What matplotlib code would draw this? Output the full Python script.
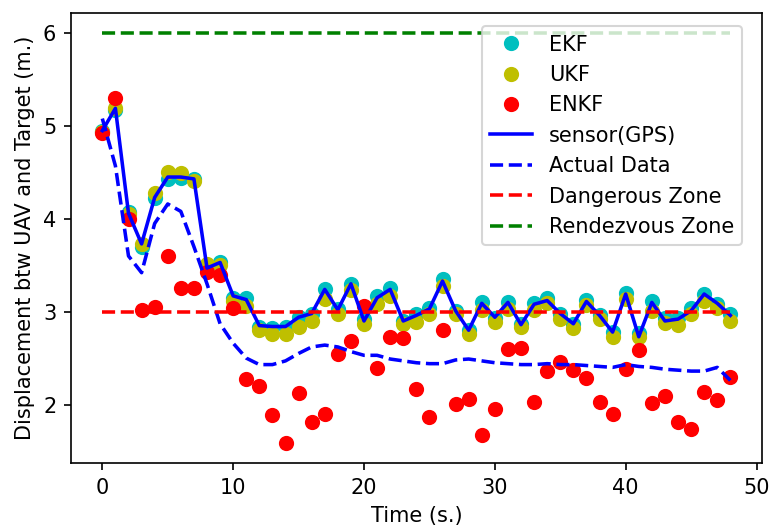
import numpy as np
import matplotlib
matplotlib.use('Agg')
import matplotlib.pyplot as plt

# Values

time = np.arange(49)

ekf = [4.95, 5.17, 4.07, 3.70, 4.22, 4.43, 4.44, 4.43, 3.48, 3.53,
       3.15, 3.15, 2.84, 2.82, 2.84, 2.94, 2.98, 3.24, 3.03, 3.30,
       2.92, 3.17, 3.26, 2.90, 2.97, 3.04, 3.35, 3.01, 2.80, 3.10,
       2.93, 3.10, 2.87, 3.09, 3.15, 2.97, 2.87, 3.13, 2.96, 2.78,
       3.20, 2.77, 3.11, 2.93, 2.93, 3.04, 3.19, 3.08, 2.97]

ukf = [4.93, 5.19, 4.05, 3.73, 4.28, 4.50, 4.49, 4.41, 3.51, 3.50,
       3.12, 3.06, 2.80, 2.76, 2.76, 2.83, 2.90, 3.14, 2.98, 3.23,
       2.87, 3.08, 3.17, 2.87, 2.89, 2.98, 3.28, 2.98, 2.76, 3.02,
       2.89, 3.03, 2.83, 3.02, 3.09, 2.92, 2.82, 3.07, 2.92, 2.73,
       3.14, 2.73, 3.01, 2.88, 2.86, 2.97, 3.12, 3.04, 2.90]

enkf = [4.92, 5.30, 4.00, 3.02, 3.05, 3.60, 3.25, 3.25, 3.43, 3.40,
        3.04, 2.28, 2.20, 1.89, 1.59, 2.12, 1.81, 1.90, 2.54, 2.68,
        3.06, 2.39, 2.73, 2.72, 2.17, 1.87, 2.80, 2.01, 2.06, 1.67,
        1.95, 2.60, 2.61, 2.03, 2.36, 2.46, 2.37, 2.29, 2.03, 1.90,
        2.38, 2.59, 2.02, 2.09, 1.81, 1.74, 2.14, 2.05, 2.30]

sensor = [4.95, 5.19, 4.06, 3.73, 4.23, 4.45, 4.45, 4.43, 3.47, 3.53,
          3.17, 3.13, 2.85, 2.84, 2.84, 2.94, 2.98, 3.24, 3.02, 3.30,
          2.90, 3.15, 3.24, 2.90, 2.96, 3.03, 3.33, 3.01, 2.80, 3.09,
          2.94, 3.10, 2.86, 3.08, 3.12, 2.98, 2.87, 3.11, 2.96, 2.78,
          3.19, 2.73, 3.10, 2.90, 2.92, 3.01, 3.19, 3.09, 2.96]

actual = [5.08, 4.57, 3.60, 3.42, 3.95, 4.16, 4.08, 3.70, 3.30, 2.87,
          2.66, 2.50, 2.43, 2.43, 2.47, 2.55, 2.62, 2.64, 2.62, 2.57,
          2.53, 2.53, 2.49, 2.47, 2.45, 2.44, 2.44, 2.48, 2.49, 2.47,
          2.45, 2.44, 2.43, 2.43, 2.44, 2.43, 2.43, 2.42, 2.41, 2.40,
          2.43, 2.41, 2.40, 2.38, 2.37, 2.36, 2.36, 2.40, 2.26]

danger = 3
rendezvous = 6

fig = plt.figure(figsize=(771/150, 528/150), dpi=150)
plt.subplots_adjust(left=0.092, right=0.988, bottom=0.123, top=0.976)

plt.plot(time, ekf, 'co', ms=6.3, label='EKF')
plt.plot(time, ukf, 'yo', ms=6.3, label='UKF')
plt.plot(time, enkf, 'ro', ms=6.3, label='ENKF')
plt.plot(time, sensor, 'b-', lw=1.7, label='sensor(GPS)')
plt.plot(time, actual, 'b--', lw=1.7, label='Actual Data')
plt.plot(time, [danger]*len(time), 'r--', lw=1.7, label='Dangerous Zone')
plt.plot(time, [rendezvous]*len(time), 'g--', lw=1.7, label='Rendezvous Zone')

plt.xlabel('Time (s.)')
plt.ylabel('Displacement btw UAV and Target (m.)')
plt.legend(loc='upper right', bbox_to_anchor=(0.972, 0.97), borderaxespad=0)

plt.savefig('out.png', dpi=150)
